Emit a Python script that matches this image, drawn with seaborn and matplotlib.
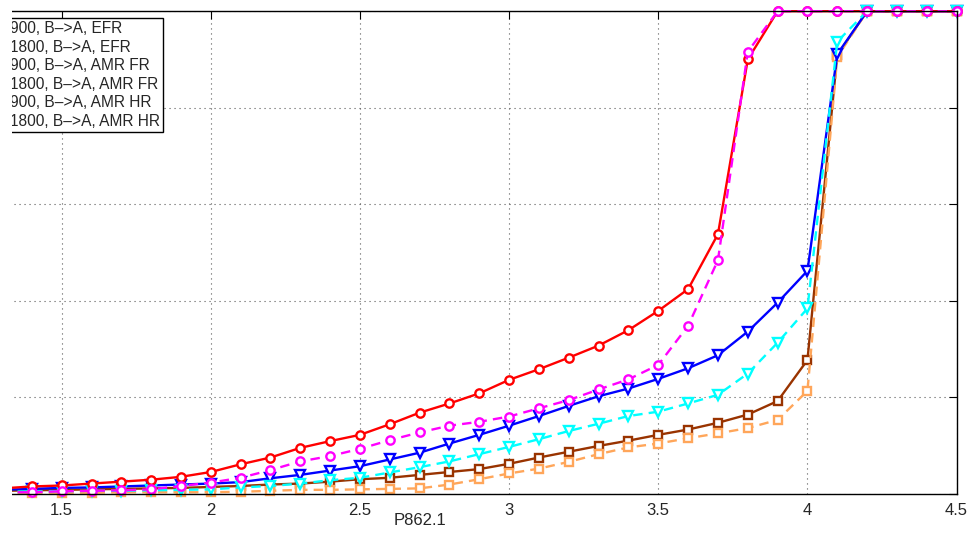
import seaborn as sns
import matplotlib.pyplot as plt
from matplotlib.patches import Rectangle

# ===== data =====
snr = [1.3, 1.4, 1.5, 1.6, 1.7, 1.8, 1.9, 2.0, 2.1, 2.2, 2.3, 2.4, 2.5, 2.6, 2.7, 2.8,
       2.9, 3.0, 3.1, 3.2, 3.3, 3.4, 3.5, 3.6, 3.7, 3.8, 3.9, 4.0, 4.1, 4.2, 4.3, 4.4, 4.5]

efr_900 = [0.011, 0.015, 0.017, 0.021, 0.025, 0.029, 0.035, 0.045, 0.061, 0.075, 0.095,
           0.109, 0.122, 0.144, 0.168, 0.187, 0.208, 0.236, 0.258, 0.282, 0.307, 0.339,
           0.379, 0.424, 0.538, 0.900, 1.0, 1.0, 1.0, 1.0, 1.0, 1.0, 1.0]
efr_1800 = [0.003, 0.003, 0.005, 0.006, 0.007, 0.009, 0.016, 0.023, 0.033, 0.049, 0.067,
            0.078, 0.093, 0.111, 0.127, 0.141, 0.149, 0.160, 0.177, 0.194, 0.216, 0.237,
            0.267, 0.348, 0.484, 0.916, 1.0, 1.0, 1.0, 1.0, 1.0, 1.0, 1.0]
amr_fr_900 = [0.008, 0.010, 0.012, 0.013, 0.015, 0.017, 0.019, 0.021, 0.024, 0.032, 0.039,
              0.048, 0.057, 0.071, 0.085, 0.104, 0.122, 0.141, 0.161, 0.182, 0.202, 0.218,
              0.238, 0.260, 0.287, 0.336, 0.396, 0.462, 0.911, 1.0, 1.0, 1.0, 1.0]
amr_fr_1800 = [0.004, 0.005, 0.005, 0.006, 0.006, 0.007, 0.008, 0.009, 0.013, 0.016, 0.021,
               0.028, 0.033, 0.044, 0.055, 0.067, 0.082, 0.097, 0.113, 0.130, 0.145, 0.161,
               0.170, 0.187, 0.205, 0.249, 0.313, 0.384, 0.937, 1.0, 1.0, 1.0, 1.0]
amr_hr_900 = [0.006, 0.007, 0.008, 0.009, 0.010, 0.011, 0.012, 0.014, 0.016, 0.019, 0.021,
              0.025, 0.030, 0.033, 0.039, 0.045, 0.051, 0.062, 0.075, 0.087, 0.099, 0.110,
              0.122, 0.133, 0.147, 0.164, 0.192, 0.277, 0.909, 1.0, 1.0, 1.0, 1.0]
amr_hr_1800 = [0.002, 0.002, 0.002, 0.002, 0.003, 0.003, 0.003, 0.003, 0.004, 0.006, 0.008,
               0.008, 0.009, 0.010, 0.011, 0.019, 0.030, 0.042, 0.052, 0.066, 0.082, 0.096,
               0.104, 0.115, 0.125, 0.136, 0.153, 0.213, 0.905, 1.0, 1.0, 1.0, 1.0]

labels = ["900, B–>A, EFR", "1800, B–>A, EFR", "900, B–>A, AMR FR",
          "1800, B–>A, AMR FR", "900, B–>A, AMR HR", "1800, B–>A, AMR HR"]
series = [efr_900, efr_1800, amr_fr_900, amr_fr_1800, amr_hr_900, amr_hr_1800]

colors = ["#ff0000", "#ff00ff", "#0000ff", "#00ffff", "#993300", "#ffa65a"]
markers = ["o", "o", "v", "v", "s", "s"]
msizes = [6, 6, 6.5, 6.5, 5.5, 5.5]
dashed = (0, (4, 2.6))
styles = ["-", dashed, "-", dashed, "-", dashed]

# HR drawn first, EFR last (EFR lies on top in the picture)
draw_order = [4, 5, 2, 3, 0, 1]

# ===== style =====
sns.set_theme(style="white")
plt.rcParams["font.family"] = ["Liberation Sans", "DejaVu Sans"]

fig = plt.figure(figsize=(9.71, 5.4), dpi=100)
# axes span: x=1.25 at -12.9px, x=4.5 at 956.6px; y 0..1 between 493.7px and 11.2px
ax = fig.add_axes([-12.9 / 971, 46.3 / 540, 969.5 / 971, 482.5 / 540])

for i in draw_order:
    sns.lineplot(x=snr, y=series[i], ax=ax, color=colors[i], marker=markers[i],
                 markersize=msizes[i], mec=colors[i], mfc="white", mew=1.7, lw=1.7,
                 linestyle=styles[i], label=labels[i], estimator=None, clip_on=False)

ax.set_xlim(1.25, 4.5)
ax.set_ylim(0, 1)
ax.set_xticks([1.5, 2, 2.5, 3, 3.5, 4, 4.5])
ax.set_xticklabels(["1.5", "2", "2.5", "3", "3.5", "4", "4.5"])
ax.set_yticks([0, 0.2, 0.4, 0.6, 0.8, 1.0])
ax.tick_params(axis="both", direction="in", length=6, width=0.8, color="black",
               top=True, right=True, labelleft=False, labelsize=12, pad=7)
ax.grid(True, linestyle=(0, (1, 3.5)), color="0.35", linewidth=0.8)
for sp in ax.spines.values():
    sp.set_color("black")
    sp.set_linewidth(1.0)

ax.set_xlabel("P862.1", fontsize=12)
ax.xaxis.set_label_coords(0.4465, -0.040)

handles, labs = ax.get_legend_handles_labels()
by_label = dict(zip(labs, handles))
leg = ax.legend([by_label[l] for l in labels], labels,
                loc="upper right", bbox_to_anchor=(163 / 971, 1 - 18.3 / 540),
                bbox_transform=fig.transFigure, fontsize=11.2, frameon=True,
                fancybox=False, framealpha=1, edgecolor="black", borderpad=0.2,
                borderaxespad=0, labelspacing=0.22, handlelength=2.5, handletextpad=0.5)
leg.get_frame().set_linewidth(1.0)

# the reference image is cut on the left
fig.add_artist(Rectangle((0, 0), 12 / 971, 1, transform=fig.transFigure,
                         facecolor="white", edgecolor="none", zorder=10))

fig.savefig("out.png", dpi=100)
